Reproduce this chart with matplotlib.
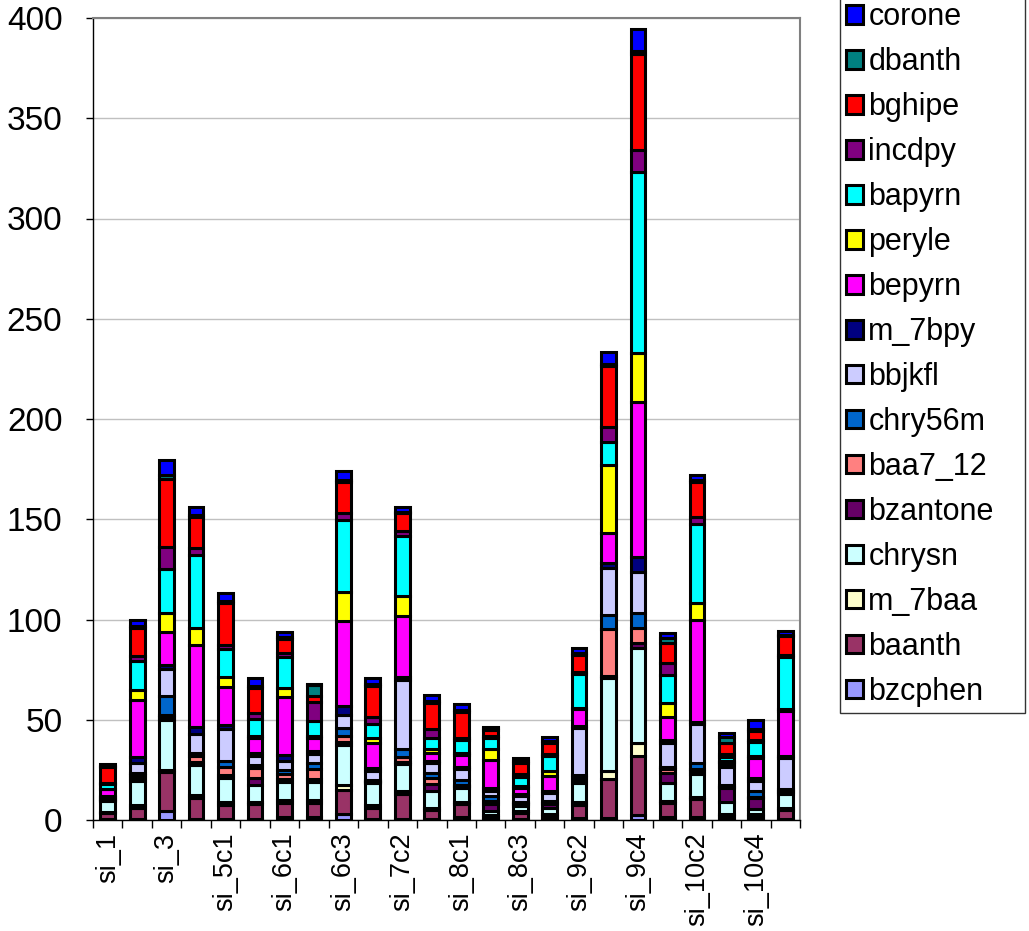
import numpy as np
import matplotlib
matplotlib.use("Agg")
import matplotlib.pyplot as plt

plt.rcParams['font.family'] = ['Liberation Sans', 'DejaVu Sans']

# Sample identifiers (every other one is labelled on the axis)
samples = ["si_1", "si_2", "si_3", "si_4", "si_5c1", "si_5c2", "si_6c1", "si_6c2",
           "si_6c3", "si_7c1", "si_7c2", "si_7c3", "si_8c1", "si_8c2", "si_8c3",
           "si_9c1", "si_9c2", "si_9c3", "si_9c4", "si_10c1", "si_10c2", "si_10c3",
           "si_10c4", "si_10c5"]

# PAH concentrations per compound, stacked bottom to top
bzcphen = [0.5, 0.5, 4.3, 0.5, 0.5, 0.5, 1.7, 1.5, 3.0, 0.5, 0.5, 0.5, 1.7, 0.5, 0.5, 0.5, 1.0, 1.0, 2.5, 1.5, 1.5, 0.5, 0.5, 0.5]
baanth = [3.0, 5.5, 19.8, 10.3, 7.0, 7.3, 6.6, 7.1, 12.0, 5.3, 12.5, 4.5, 6.1, 1.2, 3.2, 1.5, 6.5, 19.3, 29.4, 6.8, 8.8, 1.5, 1.5, 4.5]
m_7baa = [0.3, 1.5, 1.0, 1.7, 1.5, 1.3, 1.5, 1.2, 2.5, 1.7, 1.3, 1.0, 1.3, 0.8, 1.0, 0.8, 1.3, 4.3, 6.3, 1.2, 1.2, 1.0, 1.0, 1.0]
chrysn = [5.5, 12.0, 25.0, 14.9, 11.8, 8.4, 9.3, 9.3, 19.9, 11.1, 13.5, 8.5, 6.7, 2.2, 2.3, 3.0, 9.8, 46.1, 47.4, 9.1, 11.4, 6.1, 2.3, 6.8]
bzantone = [0.5, 1.5, 1.5, 1.5, 1.5, 3.6, 1.4, 1.5, 1.5, 0.5, 1.3, 3.3, 1.0, 3.1, 0.8, 2.0, 1.5, 1.0, 2.5, 4.7, 1.5, 6.7, 5.5, 1.0]
baa7_12 = [0.3, 1.2, 0.8, 3.2, 4.2, 4.7, 2.3, 4.8, 3.2, 0.5, 2.5, 3.0, 0.5, 1.7, 0.6, 0.7, 1.2, 23.4, 7.5, 2.0, 0.8, 0.8, 0.8, 0.8]
chry56m = [0.3, 1.3, 9.5, 1.3, 2.8, 1.6, 2.1, 2.9, 3.6, 0.4, 3.7, 2.5, 2.7, 2.5, 0.7, 0.8, 1.0, 7.1, 7.5, 1.0, 3.1, 0.8, 2.9, 0.8]
bbjkfl = [1.0, 4.8, 13.2, 9.3, 16.3, 4.5, 4.5, 4.5, 6.7, 4.6, 34.5, 5.0, 5.3, 2.6, 3.0, 4.0, 23.8, 23.6, 20.7, 12.3, 19.4, 8.9, 5.0, 15.5]
m_7bpy = [0.5, 3.0, 2.0, 3.8, 1.6, 1.3, 3.0, 1.5, 4.6, 1.5, 1.5, 1.3, 1.3, 1.5, 1.0, 1.2, 1.0, 2.2, 7.5, 1.3, 1.2, 1.5, 1.2, 1.0]
bepyrn = [3.5, 28.5, 16.6, 40.8, 19.2, 7.5, 28.8, 6.4, 42.3, 12.5, 30.4, 4.0, 5.8, 13.8, 2.7, 7.4, 8.1, 15.3, 77.3, 11.6, 50.9, 1.0, 10.4, 22.5]
peryle = [0.3, 5.2, 9.7, 8.3, 5.0, 1.2, 4.8, 1.0, 14.6, 2.1, 10.2, 1.7, 1.0, 5.3, 1.0, 2.5, 0.8, 33.8, 24.2, 7.0, 8.6, 0.8, 0.8, 0.8]
bapyrn = [2.2, 14.5, 22.0, 36.6, 14.1, 8.3, 15.5, 7.7, 35.7, 7.2, 29.7, 5.7, 6.5, 5.9, 4.5, 7.5, 16.8, 11.6, 90.6, 13.8, 39.2, 2.0, 7.2, 26.0]
incdpy = [0.8, 2.5, 10.8, 3.6, 2.0, 3.0, 1.6, 9.3, 3.7, 3.3, 2.5, 4.2, 1.0, 1.0, 1.5, 1.0, 1.0, 7.2, 10.8, 5.8, 3.7, 1.3, 0.8, 1.2]
bghipe = [7.5, 14.0, 34.1, 15.2, 20.8, 12.5, 7.0, 3.1, 15.4, 15.6, 8.9, 13.0, 13.1, 2.8, 5.8, 5.7, 8.5, 30.5, 47.8, 10.0, 17.4, 5.3, 4.6, 9.3]
dbanth = [0.5, 1.0, 1.6, 1.0, 1.0, 1.0, 1.0, 5.4, 1.0, 1.0, 0.7, 1.0, 1.0, 0.8, 0.8, 0.8, 0.8, 1.2, 1.5, 2.5, 1.0, 3.3, 0.8, 0.8]
corone = [1.3, 2.7, 7.6, 4.0, 4.1, 4.0, 2.8, 0.5, 4.5, 3.2, 2.6, 3.1, 2.7, 0.8, 1.7, 1.8, 2.5, 6.0, 11.0, 2.5, 2.4, 2.0, 4.6, 2.0]

series = [
    ("bzcphen", bzcphen, "#9999FF"),
    ("baanth", baanth, "#993366"),
    ("m_7baa", m_7baa, "#FFFFCC"),
    ("chrysn", chrysn, "#CCFFFF"),
    ("bzantone", bzantone, "#660066"),
    ("baa7_12", baa7_12, "#FF8080"),
    ("chry56m", chry56m, "#0066CC"),
    ("bbjkfl", bbjkfl, "#CCCCFF"),
    ("m_7bpy", m_7bpy, "#000080"),
    ("bepyrn", bepyrn, "#FF00FF"),
    ("peryle", peryle, "#FFFF00"),
    ("bapyrn", bapyrn, "#00FFFF"),
    ("incdpy", incdpy, "#800080"),
    ("bghipe", bghipe, "#FF0000"),
    ("dbanth", dbanth, "#008080"),
    ("corone", corone, "#0000FF"),
]

W, H = 1029, 931
fig = plt.figure(figsize=(W / 100, H / 100), dpi=100)
fig.patch.set_facecolor("white")
ax = fig.add_axes([93 / W, 1 - 820 / H, (800 - 93) / W, (820 - 18) / H])

x = np.arange(len(samples))
bottom = np.zeros(len(samples))
handles = []
for name, vals, color in series:
    vals = np.asarray(vals, dtype=float)
    h = ax.bar(x, vals, width=0.5, bottom=bottom, color=color,
               edgecolor="black", linewidth=2.2, label=name, zorder=3)
    handles.append(h)
    bottom += vals

ax.set_xlim(-0.5, len(samples) - 0.5)
ax.set_ylim(0, 400)
ax.set_yticks(np.arange(0, 401, 50))
ax.yaxis.grid(True, color="#c0c0c0", linewidth=1.0, zorder=0)
ax.set_axisbelow(True)

# tick marks sit between categories, labels at every other bar centre
ax.set_xticks(np.arange(-0.5, len(samples)), labels=[""] * (len(samples) + 1))
ax.set_xticks(x[::2], labels=[samples[i] for i in x[::2]], minor=True)
ax.tick_params(axis="x", which="major", direction="out", length=6, width=1, color="black")
ax.tick_params(axis="x", which="minor", length=0, labelsize=19.5, rotation=90, pad=9)
ax.tick_params(axis="y", direction="out", length=5, width=1, labelsize=24, pad=17)

for side in ("left", "bottom"):
    ax.spines[side].set_color("black")
    ax.spines[side].set_linewidth(1.0)
for side in ("top", "right"):
    ax.spines[side].set_color("#808080")
    ax.spines[side].set_linewidth(1.5)

leg = fig.legend(handles[::-1], [s[0] for s in series][::-1],
                 loc="lower left", mode="expand",
                 bbox_to_anchor=(840 / W, 1 - 713 / H, 185 / W, 0.5),
                 frameon=True, fancybox=False, edgecolor="black", fontsize=22,
                 handlelength=0.55, handleheight=0.55, handletextpad=0.18,
                 labelspacing=0.49, borderpad=0.2, borderaxespad=0)
leg.get_frame().set_linewidth(1.0)

fig.savefig("out.png", dpi=100, facecolor="white")
